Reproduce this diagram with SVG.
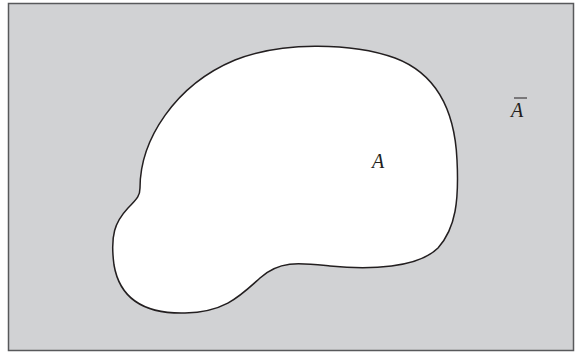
<svg xmlns="http://www.w3.org/2000/svg" width="575" height="352" viewBox="0 0 575 352">
<style>
.lbl{font-family:"Liberation Serif","DejaVu Serif",serif;font-style:italic;font-size:20px;fill:#231f20}
</style>
<g id="universe"><rect x="8.5" y="3.5" width="565" height="347" fill="#d1d2d4" stroke="#58595b" stroke-width="1.5"/></g>
<g id="setA">
<path d="M 140 188 C 140 140, 175 85, 235 60 C 280 42, 350 42, 395 58 C 440 75, 455 115, 457 160 C 459 200, 456 228, 438 248 C 418 268, 370 270, 330 266 C 300 263, 280 260, 260 278 C 240 296, 225 312, 185 313 C 145 314, 120 300, 114 265 C 110 235, 115 222, 128 208 C 138 198, 140 195, 140 188 Z" fill="#ffffff" stroke="#231f20" stroke-width="1.5"/>
<text class="lbl" x="372" y="168">A</text>
</g>
<g id="complement"><text class="lbl" x="511" y="117">A</text><line x1="514" y1="98" x2="527" y2="98" stroke="#231f20" stroke-width="1"/></g>
</svg>
